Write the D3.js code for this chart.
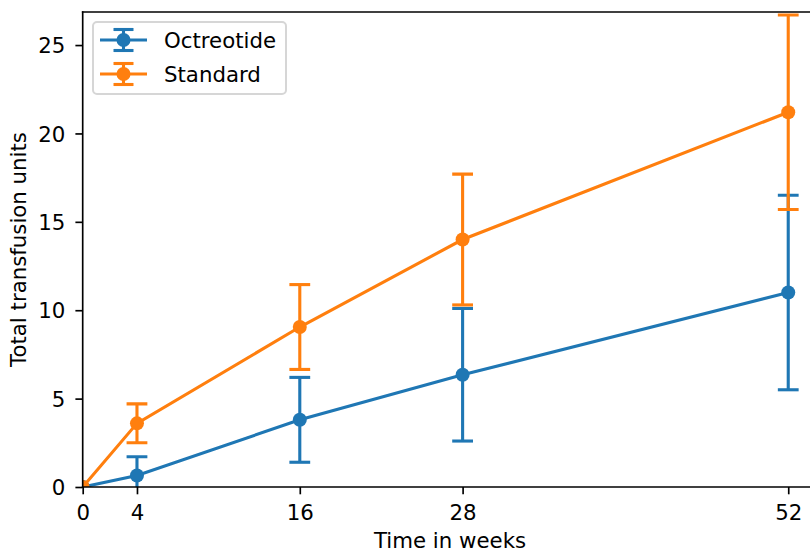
<!DOCTYPE html>
<html>
<head>
<meta charset="utf-8">
<script src="https://cdn.jsdelivr.net/npm/d3@7"></script>
<style>
  body { margin: 0; background: #fff; }
  svg { display: block; font-family: "DejaVu Sans", sans-serif; }
</style>
</head>
<body>
<svg id="chart" width="810" height="553"></svg>
<script>
// data
const weeks = [0, 4, 16, 28, 52]
const octreotide = [0, 0.65, 3.8, 6.35, 11.0]
const octreotide_err = [0, 1.06, 2.4, 3.75, 5.5]
const standard = [0, 3.6, 9.05, 14.0, 21.2]
const standard_err = [0, 1.1, 2.4, 3.7, 5.5]
const x_ticks = [0, 4, 16, 28, 52]
const y_ticks = [0, 5, 10, 15, 20, 25]

const series = [
  { name: "Octreotide", values: octreotide, err: octreotide_err, color: "#1f77b4" },
  { name: "Standard", values: standard, err: standard_err, color: "#ff7f0e" }
]

const fs = 21.3
const plot_left = 82.7, plot_top = 12, plot_bottom = 487
const svg = d3.select("#chart")

// scales
const x = d3.scaleLinear().domain([0, 54.6]).range([plot_left, plot_left + 54.6 * 13.568])
const y = d3.scaleLinear().domain([0, 26.87]).range([plot_bottom, plot_top])
const plot_right = x.range()[1]

svg.append("clipPath").attr("id", "plot_clip")
  .append("rect")
  .attr("x", plot_left).attr("y", plot_top)
  .attr("width", plot_right - plot_left).attr("height", plot_bottom - plot_top)

const plot = svg.append("g").attr("clip-path", "url(#plot_clip)")

// error bars, lines, markers per series
series.forEach(s => {
  const g = plot.append("g")
  const pts = weeks.map((w, i) => ({ w: w, v: s.values[i], e: s.err[i] }))
  const bars = pts.filter(d => d.e > 0)

  g.selectAll("line.bar").data(bars).enter()
    .append("line")
    .attr("x1", d => x(d.w)).attr("x2", d => x(d.w))
    .attr("y1", d => y(d.v - d.e)).attr("y2", d => y(d.v + d.e))
    .attr("stroke", s.color).attr("stroke-width", 3.1)

  bars.forEach(d => {
    [d.v - d.e, d.v + d.e].forEach(c => {
      g.append("line")
        .attr("x1", x(d.w) - 10.4).attr("x2", x(d.w) + 10.4)
        .attr("y1", y(c)).attr("y2", y(c))
        .attr("stroke", s.color).attr("stroke-width", 3.1)
    })
  })

  g.append("path")
    .datum(pts)
    .attr("d", d3.line().x(d => x(d.w)).y(d => y(d.v)))
    .attr("fill", "none")
    .attr("stroke", s.color)
    .attr("stroke-width", 3.1)

  g.selectAll("circle").data(pts).enter()
    .append("circle")
    .attr("cx", d => x(d.w)).attr("cy", d => y(d.v))
    .attr("r", 7)
    .attr("fill", s.color)
})

// axes
const x_axis = d3.axisBottom(x).tickValues(x_ticks).tickSizeInner(7.3).tickSizeOuter(0).tickPadding(11)
const y_axis = d3.axisLeft(y).tickValues(y_ticks).tickSizeInner(7.3).tickSizeOuter(0).tickPadding(10)

const gx = svg.append("g").attr("transform", `translate(0,${plot_bottom})`).call(x_axis)
const gy = svg.append("g").attr("transform", `translate(${plot_left},0)`).call(y_axis)

;[gx, gy].forEach(g => {
  g.selectAll("text").attr("font-size", fs).attr("font-family", "DejaVu Sans").attr("fill", "#000")
  g.selectAll("line").attr("stroke-width", 1.67).attr("stroke", "#000")
  g.select(".domain").remove()
})
gy.selectAll("text").attr("dy", "0.36em")

// spines
const spines = [
  [plot_left, plot_top, plot_left, plot_bottom],
  [plot_left, plot_bottom, plot_right, plot_bottom],
  [plot_left, plot_top, plot_right, plot_top],
  [plot_right, plot_top, plot_right, plot_bottom]
]
svg.append("g").selectAll("line").data(spines).enter()
  .append("line")
  .attr("x1", d => d[0]).attr("y1", d => d[1])
  .attr("x2", d => d[2]).attr("y2", d => d[3])
  .attr("stroke", "#000").attr("stroke-width", 1.67)
  .attr("stroke-linecap", "square")

// axis labels
svg.append("text")
  .attr("x", 450).attr("y", 548)
  .attr("text-anchor", "middle").attr("font-size", fs)
  .text("Time in weeks")

svg.append("text")
  .attr("transform", `translate(26,${(plot_top + plot_bottom) / 2}) rotate(-90)`)
  .attr("text-anchor", "middle").attr("font-size", fs)
  .text("Total transfusion units")

// legend
const legend = svg.append("g")
legend.append("rect")
  .attr("x", 93).attr("y", 22).attr("width", 193).attr("height", 72)
  .attr("rx", 4).attr("fill", "#fff").attr("fill-opacity", 0.8)
  .attr("stroke", "#d6d6d6").attr("stroke-width", 2)

series.forEach((s, i) => {
  const cy = 40 + i * 34
  const g = legend.append("g").attr("stroke", s.color).attr("stroke-width", 3.1)
  g.append("line").attr("x1", 100).attr("x2", 147).attr("y1", cy).attr("y2", cy)
  g.append("line").attr("x1", 123.5).attr("x2", 123.5).attr("y1", cy - 10.5).attr("y2", cy + 10.5)
  g.append("line").attr("x1", 113.5).attr("x2", 133.5).attr("y1", cy - 10.5).attr("y2", cy - 10.5)
  g.append("line").attr("x1", 113.5).attr("x2", 133.5).attr("y1", cy + 10.5).attr("y2", cy + 10.5)
  legend.append("circle").attr("cx", 123.5).attr("cy", cy).attr("r", 7).attr("fill", s.color)
  legend.append("text")
    .attr("x", 164).attr("y", cy + 7.7)
    .attr("font-size", fs)
    .text(s.name)
})
</script>
</body>
</html>
